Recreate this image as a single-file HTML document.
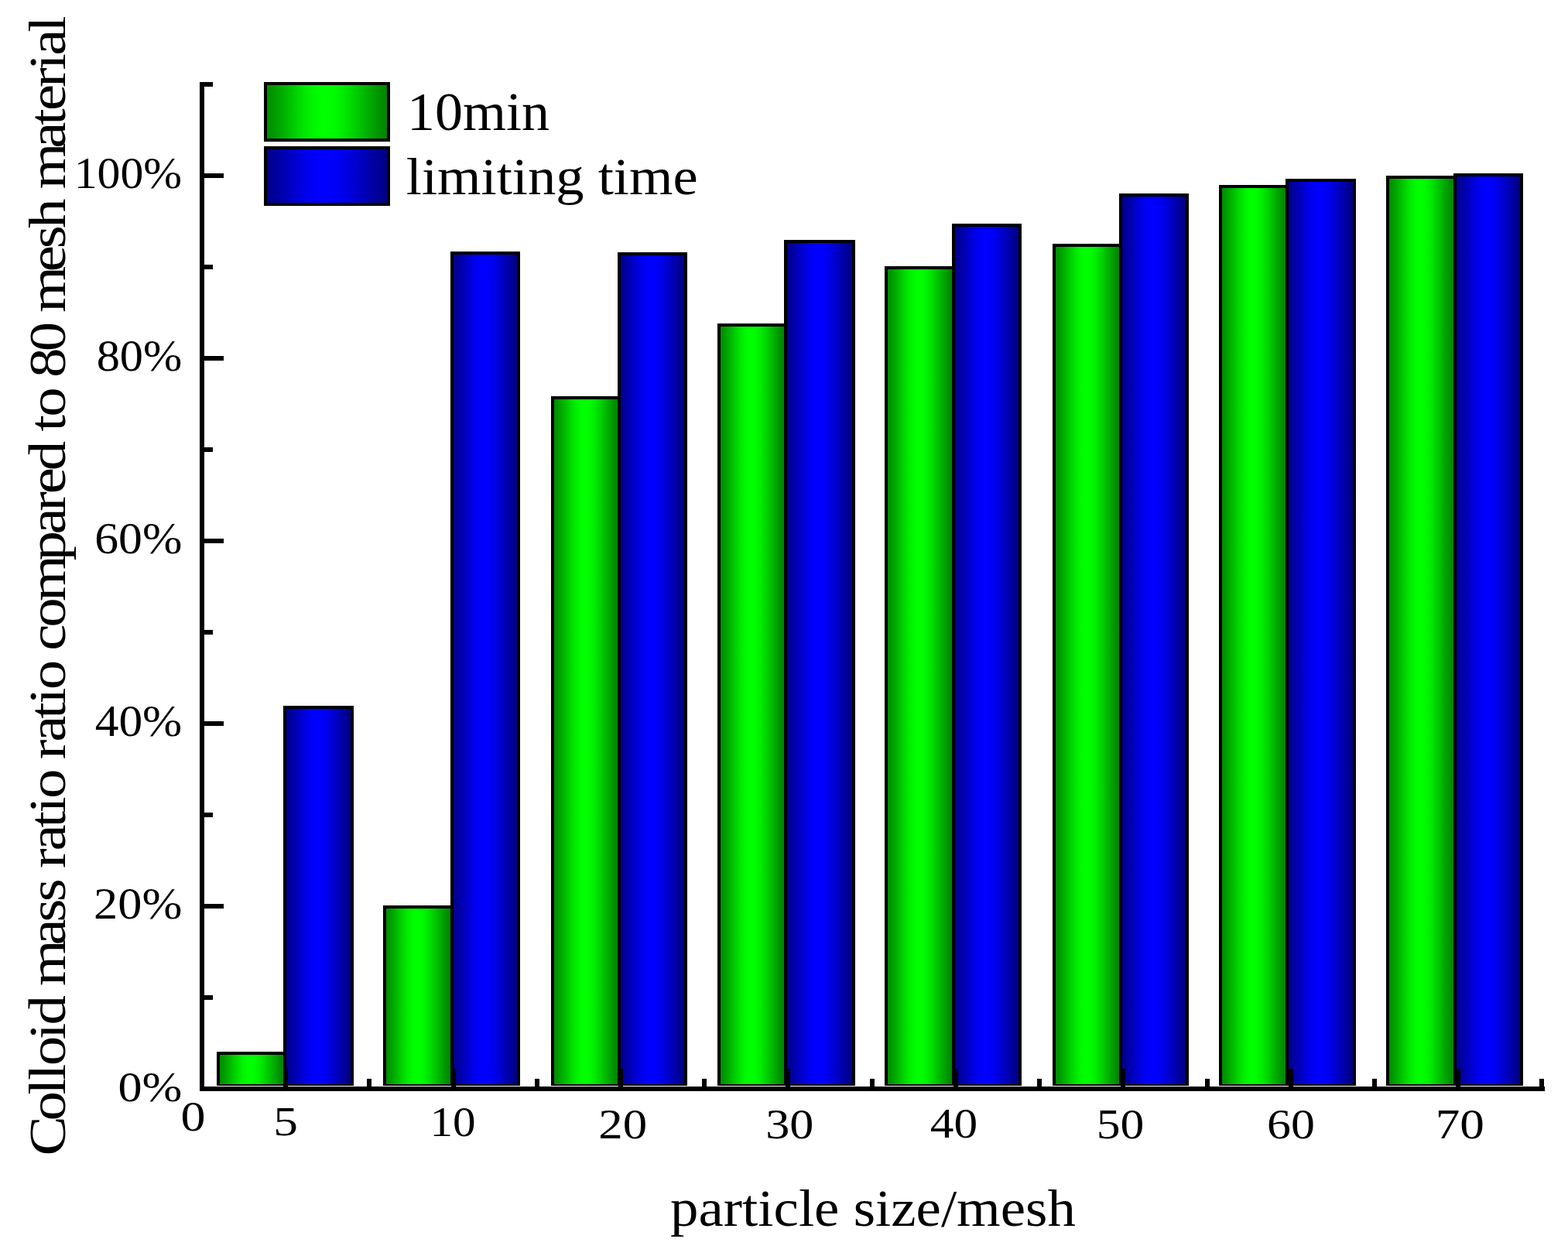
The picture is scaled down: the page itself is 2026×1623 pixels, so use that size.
<!DOCTYPE html>
<html lang="en"><head><meta charset="utf-8"><title>Colloid mass ratio chart</title>
<style>html,body{margin:0;padding:0;background:#fff;overflow:hidden}svg{display:block}text{font-family:"Liberation Serif",serif;font-size:100px;fill:#000}</style>
</head><body>
<svg width="2026" height="1623" viewBox="0 0 2026 1623">
<defs>
<linearGradient id="gg" x1="0" y1="0" x2="1" y2="0"><stop offset="0.0" stop-color="#008c00"/><stop offset="0.0417" stop-color="#009500"/><stop offset="0.0833" stop-color="#00a000"/><stop offset="0.125" stop-color="#00ad00"/><stop offset="0.1667" stop-color="#00ba00"/><stop offset="0.2083" stop-color="#00c700"/><stop offset="0.25" stop-color="#00d500"/><stop offset="0.2917" stop-color="#00e100"/><stop offset="0.3333" stop-color="#00ec00"/><stop offset="0.375" stop-color="#00f500"/><stop offset="0.4167" stop-color="#00fb00"/><stop offset="0.4583" stop-color="#00ff00"/><stop offset="0.5" stop-color="#00ff00"/><stop offset="0.5417" stop-color="#00fc00"/><stop offset="0.5833" stop-color="#00f600"/><stop offset="0.625" stop-color="#00ee00"/><stop offset="0.6667" stop-color="#00e300"/><stop offset="0.7083" stop-color="#00d800"/><stop offset="0.75" stop-color="#00cb00"/><stop offset="0.7917" stop-color="#00be00"/><stop offset="0.8333" stop-color="#00b100"/><stop offset="0.875" stop-color="#00a400"/><stop offset="0.9167" stop-color="#009800"/><stop offset="0.9583" stop-color="#008d00"/><stop offset="1.0" stop-color="#008400"/></linearGradient>
<linearGradient id="gb" x1="0" y1="0" x2="1" y2="0"><stop offset="0.0" stop-color="#00008c"/><stop offset="0.0417" stop-color="#000095"/><stop offset="0.0833" stop-color="#0000a0"/><stop offset="0.125" stop-color="#0000ad"/><stop offset="0.1667" stop-color="#0000ba"/><stop offset="0.2083" stop-color="#0000c7"/><stop offset="0.25" stop-color="#0000d5"/><stop offset="0.2917" stop-color="#0000e1"/><stop offset="0.3333" stop-color="#0000ec"/><stop offset="0.375" stop-color="#0000f5"/><stop offset="0.4167" stop-color="#0000fb"/><stop offset="0.4583" stop-color="#0000ff"/><stop offset="0.5" stop-color="#0000ff"/><stop offset="0.5417" stop-color="#0000fc"/><stop offset="0.5833" stop-color="#0000f6"/><stop offset="0.625" stop-color="#0000ee"/><stop offset="0.6667" stop-color="#0000e3"/><stop offset="0.7083" stop-color="#0000d8"/><stop offset="0.75" stop-color="#0000cb"/><stop offset="0.7917" stop-color="#0000be"/><stop offset="0.8333" stop-color="#0000b1"/><stop offset="0.875" stop-color="#0000a4"/><stop offset="0.9167" stop-color="#000098"/><stop offset="0.9583" stop-color="#00008d"/><stop offset="1.0" stop-color="#000084"/></linearGradient>
</defs>
<rect width="2026" height="1623" fill="#fff"/>
<g shape-rendering="crispEdges">
<rect x="280" y="1359" width="90" height="44" fill="#000"/>
<rect x="284" y="1363" width="82" height="38" fill="url(#gg)"/>
<rect x="366" y="912" width="91" height="491" fill="#000"/>
<rect x="370" y="916" width="83" height="485" fill="url(#gb)"/>
<rect x="495" y="1170" width="91" height="233" fill="#000"/>
<rect x="499" y="1174" width="83" height="227" fill="url(#gg)"/>
<rect x="582" y="325" width="90" height="1078" fill="#000"/>
<rect x="586" y="329" width="82" height="1072" fill="url(#gb)"/>
<rect x="712" y="512" width="90" height="891" fill="#000"/>
<rect x="716" y="516" width="82" height="885" fill="url(#gg)"/>
<rect x="798" y="326" width="90" height="1077" fill="#000"/>
<rect x="802" y="330" width="82" height="1071" fill="url(#gb)"/>
<rect x="927" y="418" width="90" height="985" fill="#000"/>
<rect x="931" y="422" width="82" height="979" fill="url(#gg)"/>
<rect x="1013" y="310" width="92" height="1093" fill="#000"/>
<rect x="1017" y="314" width="84" height="1087" fill="url(#gb)"/>
<rect x="1143" y="344" width="91" height="1059" fill="#000"/>
<rect x="1147" y="348" width="83" height="1053" fill="url(#gg)"/>
<rect x="1230" y="289" width="90" height="1114" fill="#000"/>
<rect x="1234" y="293" width="82" height="1108" fill="url(#gb)"/>
<rect x="1360" y="315" width="90" height="1088" fill="#000"/>
<rect x="1364" y="319" width="82" height="1082" fill="url(#gg)"/>
<rect x="1446" y="250" width="90" height="1153" fill="#000"/>
<rect x="1450" y="254" width="82" height="1147" fill="url(#gb)"/>
<rect x="1575" y="239" width="90" height="1164" fill="#000"/>
<rect x="1579" y="243" width="82" height="1158" fill="url(#gg)"/>
<rect x="1661" y="231" width="91" height="1172" fill="#000"/>
<rect x="1665" y="235" width="83" height="1166" fill="url(#gb)"/>
<rect x="1791" y="227" width="91" height="1176" fill="#000"/>
<rect x="1795" y="231" width="83" height="1170" fill="url(#gg)"/>
<rect x="1878" y="224" width="90" height="1179" fill="#000"/>
<rect x="1882" y="228" width="82" height="1173" fill="url(#gb)"/>
<rect x="341" y="106" width="163" height="77" fill="#000"/>
<rect x="345" y="110" width="155" height="69" fill="url(#gg)"/>
<rect x="341" y="189" width="163" height="77" fill="#000"/>
<rect x="345" y="193" width="155" height="69" fill="url(#gb)"/>
<rect x="258" y="106" width="6" height="1304" fill="#000"/>
<rect x="258" y="1404" width="1738" height="6" fill="#000"/>
<rect x="263" y="1404" width="26" height="6" fill="#000"/>
<rect x="263" y="1286" width="12" height="6" fill="#000"/>
<rect x="263" y="1168" width="26" height="6" fill="#000"/>
<rect x="263" y="1050" width="12" height="6" fill="#000"/>
<rect x="263" y="932" width="26" height="6" fill="#000"/>
<rect x="263" y="814" width="12" height="6" fill="#000"/>
<rect x="263" y="696" width="26" height="6" fill="#000"/>
<rect x="263" y="578" width="12" height="6" fill="#000"/>
<rect x="263" y="460" width="26" height="6" fill="#000"/>
<rect x="263" y="342" width="12" height="6" fill="#000"/>
<rect x="263" y="224" width="26" height="6" fill="#000"/>
<rect x="263" y="106" width="12" height="6" fill="#000"/>
<rect x="366" y="1381" width="6" height="24" fill="#000"/>
<rect x="474" y="1394" width="6" height="11" fill="#000"/>
<rect x="583" y="1381" width="6" height="24" fill="#000"/>
<rect x="691" y="1394" width="6" height="11" fill="#000"/>
<rect x="799" y="1381" width="6" height="24" fill="#000"/>
<rect x="907" y="1394" width="6" height="11" fill="#000"/>
<rect x="1015" y="1381" width="6" height="24" fill="#000"/>
<rect x="1124" y="1394" width="6" height="11" fill="#000"/>
<rect x="1232" y="1381" width="6" height="24" fill="#000"/>
<rect x="1340" y="1394" width="6" height="11" fill="#000"/>
<rect x="1448" y="1381" width="6" height="24" fill="#000"/>
<rect x="1557" y="1394" width="6" height="11" fill="#000"/>
<rect x="1665" y="1381" width="6" height="24" fill="#000"/>
<rect x="1773" y="1394" width="6" height="11" fill="#000"/>
<rect x="1881" y="1381" width="6" height="24" fill="#000"/>
<rect x="1989" y="1394" width="6" height="11" fill="#000"/>
</g>
<g>
<text transform="matrix(0.5980 0 0 0.5668 95.67 243.49)">100%</text>
<text transform="matrix(0.6037 0 0 0.5653 124.64 479.29)">80%</text>
<text transform="matrix(0.6168 0 0 0.5653 122.28 715.39)">60%</text>
<text transform="matrix(0.6146 0 0 0.5638 122.67 951.30)">40%</text>
<text transform="matrix(0.6234 0 0 0.5668 121.09 1187.39)">20%</text>
<text transform="matrix(0.6218 0 0 0.5594 152.47 1423.20)">0%</text>
<text transform="matrix(0.6400 0 0 0.5496 233.60 1461.45)">0</text>
<text transform="matrix(0.6335 0 0 0.5368 353.16 1467.36)">5</text>
<text transform="matrix(0.5920 0 0 0.5541 555.42 1467.55)">10</text>
<text transform="matrix(0.6289 0 0 0.5526 773.27 1470.75)">20</text>
<text transform="matrix(0.6219 0 0 0.5526 989.25 1470.75)">30</text>
<text transform="matrix(0.6133 0 0 0.5467 1201.87 1470.35)">40</text>
<text transform="matrix(0.6155 0 0 0.5526 1416.66 1470.75)">50</text>
<text transform="matrix(0.6185 0 0 0.5526 1636.97 1470.75)">60</text>
<text transform="matrix(0.6318 0 0 0.5526 1854.69 1470.75)">70</text>
<text transform="matrix(0.7201 0 0 0.7037 525.90 168.10)">10min</text>
<text transform="matrix(0.7257 0 0 0.6714 524.75 251.06)">limiting time</text>
<text transform="matrix(0.7284 0 0 0.6788 866.11 1583.58)">particle size/mesh</text>
<text transform="translate(84.26 1493.48) rotate(-90) scale(0.7700 0.6843)" x="0.00 58.50 102.36 126.73 151.10 194.96 219.33 263.19 285.11 353.34 392.27 426.41 460.55 482.47 511.68 550.61 574.99 599.36 643.21 665.14 694.35 733.28 757.65 782.03 825.88 847.81 886.74 930.60 998.83 1042.68 1081.61 1110.82 1149.76 1193.61 1215.54 1239.91 1283.77 1305.70 1349.55 1393.41 1415.34 1483.56 1522.50 1556.63 1600.49 1622.42 1690.64 1729.58 1753.95 1792.88 1822.09 1846.46 1885.39">Colloid mass ratio ratio compared to 80 mesh material</text>
</g>
</svg>
</body></html>
